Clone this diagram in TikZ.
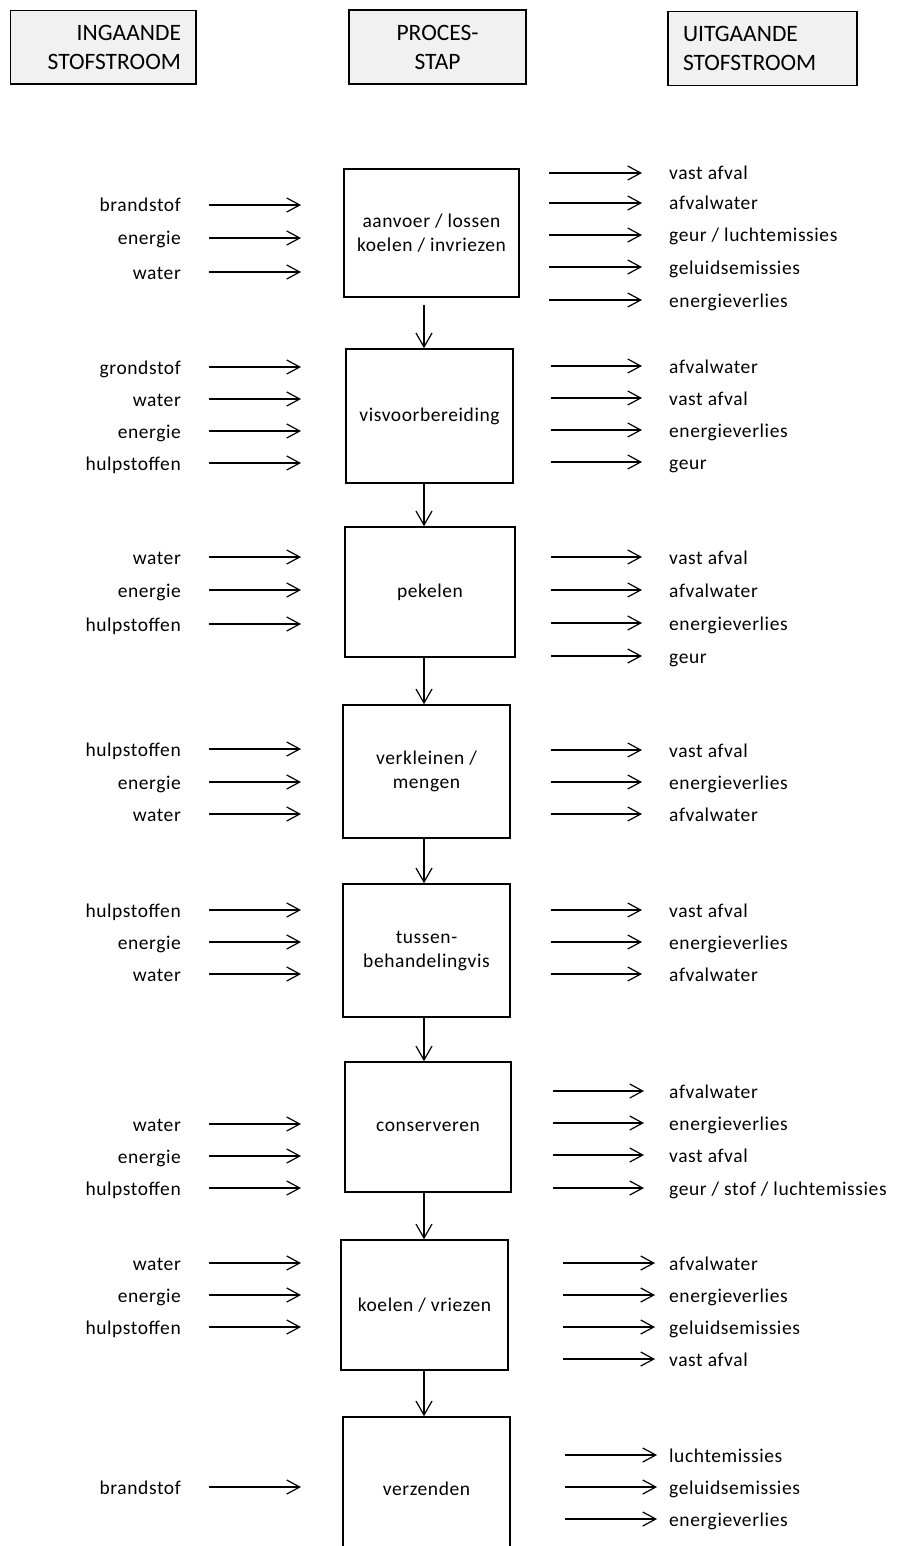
\documentclass[tikz,border=0pt]{standalone}
\usepackage{fontspec}
\setmainfont{Carlito}
\newfontfamily\lbfont{Carlito}[LetterSpace=3]
\usetikzlibrary{arrows.meta}
\definecolor{hdrfill}{HTML}{F1F1F1}
\tikzset{
  lab/.style={font=\lbfont\fontsize{19.5}{24}\selectfont, inner sep=0pt, text height=14pt, text depth=4pt},
  btxt/.style={font=\lbfont\fontsize{19.5}{24}\selectfont, align=center},
  flow/.style={line width=1.2pt, -{Straight Barb[length=13pt,width=14pt,line width=1.2pt]}},
  dn/.style={line width=1.2pt, -{Straight Barb[length=14pt,width=16pt,line width=1.2pt]}},
  pbox/.style={draw, line width=1.5pt, inner sep=0pt, btxt},
  hdr/.style={draw, line width=1.5pt, fill=hdrfill, inner ysep=0pt, inner xsep=15pt,
              font=\fontsize{23.5}{29}\selectfont}
}
% name, left, right, top, bottom, text
\newcommand\procbox[6]{\node[pbox, minimum width={#3-#2}, minimum height={#5-#4}] (#1) at ({(#2+#3)/2},{(#4+#5)/2}) {#6};}
% name, arrow y, text
\newcommand\inp[3]{\node[lab,anchor=east] (#1) at (181,{#2+2}) {#3};
  \draw[flow] ([xshift=28pt,yshift=2pt]#1.east) -- ([xshift=120pt,yshift=2pt]#1.east);}
% name, arrow y, text, arrow start x, arrow end x
\newcommand\outp[5]{\node[lab,anchor=west] (#1) at (669,{#2+2}) {#3};
  \draw[flow] ([xshift={#4-669},yshift=2pt]#1.west) -- ([xshift={#5-669},yshift=2pt]#1.west);}
\begin{document}
\begin{tikzpicture}[x=1pt,y=-1pt]
\useasboundingbox (0,0) rectangle (901,1546);
\clip (0,0) rectangle (901,1546);
% headers
\node[hdr, minimum width=185.3, minimum height=73.3, text width=155.3, align=right] (h1) at (103.3,47.3) {INGAANDE\\STOFSTROOM};
\node[hdr, minimum width=177, minimum height=74, text width=147, align=center] (h2) at (437.5,47) {PROCES-\\STAP};
\node[hdr, minimum width=189, minimum height=74, text width=159, align=left] (h3) at (762.5,48.7) {UITGAANDE\\STOFSTROOM};
% process boxes
\procbox{b1}{344}{519}{169}{297}{aanvoer / lossen\\koelen / invriezen}
\procbox{b2}{346}{513}{349}{483}{visvoorbereiding}
\procbox{b3}{345}{515}{527}{657}{pekelen}
\procbox{b4}{343}{510}{705}{838}{verkleinen /\\mengen}
\procbox{b5}{343}{510}{884}{1017}{tussen-\\behandelingvis}
\procbox{b6}{345}{511}{1062}{1192}{conserveren}
\procbox{b7}{341}{508}{1240}{1370}{koelen / vriezen}
\procbox{b8}{343}{510}{1417}{1560}{verzenden}
\coordinate (ax) at (424,0);
\draw[dn] (b1.south -| ax) ++(0,7) -- (b2.north -| ax);
\draw[dn] (b2.south -| ax) -- (b3.north -| ax);
\draw[dn] (b3.south -| ax) -- (b4.north -| ax);
\draw[dn] (b4.south -| ax) -- (b5.north -| ax);
\draw[dn] (b5.south -| ax) -- (b6.north -| ax);
\draw[dn] (b6.south -| ax) -- (b7.north -| ax);
\draw[dn] (b7.south -| ax) -- (b8.north -| ax);
% box 1
\inp{i1a}{205}{brandstof}
\inp{i1b}{238}{energie}
\inp{i1c}{272}{water}
\outp{o1a}{173}{vast afval}{549}{642}
\outp{o1b}{203}{afvalwater}{549}{642}
\outp{o1c}{235}{geur / luchtemissies}{549}{642}
\outp{o1d}{267}{geluidsemissies}{549}{642}
\outp{o1e}{300}{energieverlies}{549}{642}
% box 2
\inp{i2a}{367}{grondstof}
\inp{i2b}{399}{water}
\inp{i2c}{431}{energie}
\inp{i2d}{463}{hulpstoffen}
\outp{o2a}{366}{afvalwater}{551}{642}
\outp{o2b}{398}{vast afval}{551}{642}
\outp{o2c}{430}{energieverlies}{551}{642}
\outp{o2d}{462}{geur}{551}{642}
% box 3
\inp{i3a}{557}{water}
\inp{i3b}{590}{energie}
\inp{i3c}{624}{hulpstoffen}
\outp{o3a}{557}{vast afval}{551}{642}
\outp{o3b}{590}{afvalwater}{551}{642}
\outp{o3c}{623}{energieverlies}{551}{642}
\outp{o3d}{656}{geur}{551}{642}
% box 4
\inp{i4a}{749}{hulpstoffen}
\inp{i4b}{782}{energie}
\inp{i4c}{814}{water}
\outp{o4a}{750}{vast afval}{551}{642}
\outp{o4b}{782}{energieverlies}{551}{642}
\outp{o4c}{814}{afvalwater}{551}{642}
% box 5
\inp{i5a}{910}{hulpstoffen}
\inp{i5b}{942}{energie}
\inp{i5c}{974}{water}
\outp{o5a}{910}{vast afval}{551}{642}
\outp{o5b}{942}{energieverlies}{551}{642}
\outp{o5c}{974}{afvalwater}{551}{642}
% box 6
\inp{i6a}{1124}{water}
\inp{i6b}{1156}{energie}
\inp{i6c}{1188}{hulpstoffen}
\outp{o6a}{1091}{afvalwater}{553}{644}
\outp{o6b}{1123}{energieverlies}{553}{644}
\outp{o6c}{1155}{vast afval}{553}{644}
\outp{o6d}{1188}{geur / stof / luchtemissies}{553}{644}
% box 7
\inp{i7a}{1263}{water}
\inp{i7b}{1295}{energie}
\inp{i7c}{1327}{hulpstoffen}
\outp{o7a}{1263}{afvalwater}{563}{655}
\outp{o7b}{1295}{energieverlies}{563}{655}
\outp{o7c}{1327}{geluidsemissies}{563}{655}
\outp{o7d}{1359}{vast afval}{563}{655}
% box 8
\inp{i8a}{1487}{brandstof}
\outp{o8a}{1455}{luchtemissies}{565}{657}
\outp{o8b}{1487}{geluidsemissies}{565}{657}
\outp{o8c}{1519}{energieverlies}{565}{657}
\end{tikzpicture}
\end{document}
